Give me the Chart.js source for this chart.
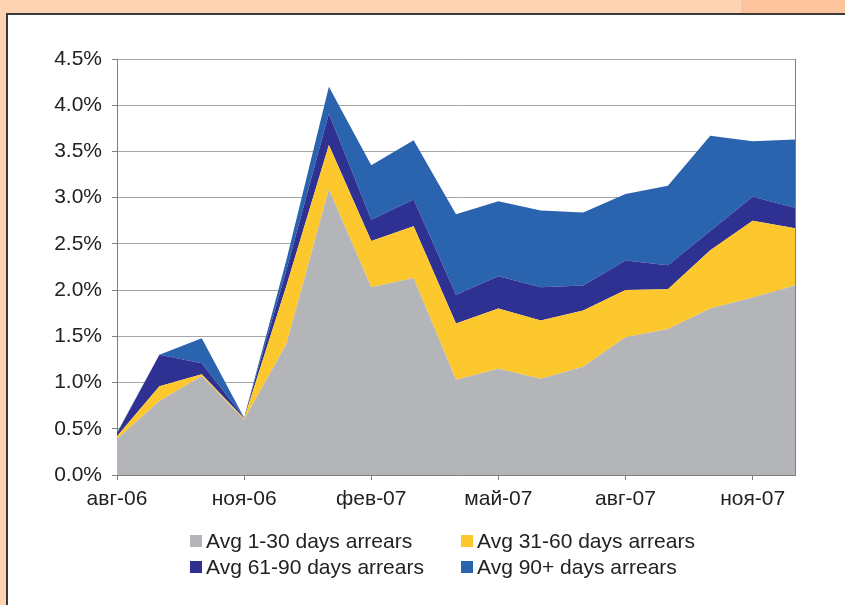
<!DOCTYPE html>
<html>
<head>
<meta charset="utf-8">
<script src="https://cdn.jsdelivr.net/npm/chart.js@4.4.1/dist/chart.umd.min.js"></script>
<style>
  html, body { margin: 0; padding: 0; }
  body { width: 845px; height: 605px; overflow: hidden; position: relative; background: #fdd4b3; }
  #tab { position: absolute; left: 741px; top: 0; width: 104px; height: 13px; background: #fbc49c; }
  #panel { position: absolute; left: 6px; top: 13px; width: 850px; height: 600px; background: #fff; border: 2px solid #3a3a3a; }
  #chart { position: absolute; left: 0; top: 0; }
  #legend { position: absolute; left: 190px; top: 530px; display: grid; grid-template-columns: 271px 260px; row-gap: 4px;
    font-family: "Liberation Sans", Arial, sans-serif; font-size: 21px; color: #222; }
  #legend div { display: flex; align-items: center; height: 22px; white-space: nowrap; }
  #legend span { display: inline-block; width: 12px; height: 12px; margin-right: 4px; }
</style>
</head>
<body>
<div id="tab"></div>
<div id="panel"></div>
<canvas id="chart" width="845" height="605"></canvas>
<div id="legend"></div>
<script>
// months, авг-06 .. дек-07
const months = ["авг-06", "сен-06", "окт-06", "ноя-06", "дек-06", "янв-07", "фев-07", "мар-07", "апр-07",
  "май-07", "июн-07", "июл-07", "авг-07", "сен-07", "окт-07", "ноя-07", "дек-07"];

// average arrears, % of portfolio (stacked)
const arrears1to30 = [0.39, 0.80, 1.07, 0.60, 1.42, 3.09, 2.03, 2.13, 1.03, 1.15, 1.04, 1.17, 1.49, 1.58, 1.80, 1.92, 2.05];
const arrears31to60 = [0.03, 0.16, 0.02, 0.01, 0.63, 0.48, 0.50, 0.56, 0.61, 0.65, 0.63, 0.61, 0.51, 0.43, 0.63, 0.83, 0.62];
const arrears61to90 = [0.03, 0.34, 0.12, 0.01, 0.17, 0.34, 0.23, 0.29, 0.31, 0.35, 0.36, 0.27, 0.32, 0.26, 0.21, 0.26, 0.22];
const arrears90plus = [0.01, 0.00, 0.27, 0.00, 0.11, 0.29, 0.59, 0.64, 0.87, 0.81, 0.83, 0.79, 0.72, 0.86, 1.03, 0.60, 0.74];

const seriesNames = ["Avg 1-30 days arrears", "Avg 31-60 days arrears", "Avg 61-90 days arrears", "Avg 90+ days arrears"];
const seriesColors = ["#b3b5b8", "#fdc72e", "#2e3192", "#2b64ae"];

const FONT = '"Liberation Sans", Arial, sans-serif';
const TEXT = "#222";
const GRID = "#a6a6a6";
const AXIS = "#7f7f7f";

function area(i, data) {
  return {
    label: seriesNames[i], data,
    backgroundColor: seriesColors[i], borderWidth: 0, pointRadius: 0,
    fill: i === 0 ? "origin" : "-1", tension: 0,
  };
}

const chart = new Chart(document.getElementById("chart"), {
  type: "line",
  data: {
    labels: months,
    datasets: [area(0, arrears1to30), area(1, arrears31to60), area(2, arrears61to90), area(3, arrears90plus)],
  },
  options: {
    responsive: false, animation: false, devicePixelRatio: 1,
    layout: { padding: { left: 0, top: 59, right: 50, bottom: 80 } },
    plugins: { legend: { display: false }, tooltip: { enabled: false } },
    scales: {
      x: {
        offset: false,
        afterFit: (s) => { s.height = 50; },
        grid: { drawOnChartArea: false, drawTicks: true, tickLength: 5, color: AXIS },
        border: { color: AXIS, width: 1 },
        ticks: {
          autoSkip: false, maxRotation: 0, padding: 7, color: TEXT, font: { family: FONT, size: 21 },
          callback: (v, i) => (i % 3 === 0 ? months[i] : null),
        },
      },
      y: {
        stacked: true, min: 0, max: 4.5,
        afterFit: (s) => { s.width = 117; },
        grid: { color: GRID, tickLength: 5, tickColor: AXIS },
        border: { color: AXIS, width: 1 },
        ticks: { stepSize: 0.5, padding: 10, color: TEXT, font: { family: FONT, size: 21 },
          callback: (v) => v.toFixed(1) + "%" },
      },
      y2: {
        position: "right", display: true,
        afterFit: (s) => { s.width = 0; },
        grid: { drawOnChartArea: false, drawTicks: false },
        border: { color: AXIS, width: 1 },
        ticks: { display: false },
      },
    },
  },
});

// legend, two columns: 1-30 | 31-60 / 61-90 | 90+
const legend = document.getElementById("legend");
chart.data.datasets.forEach((ds) => {
  const item = document.createElement("div");
  item.innerHTML = `<span style="background:${ds.backgroundColor}"></span>${ds.label}`;
  legend.appendChild(item);
});
</script>
</body>
</html>
